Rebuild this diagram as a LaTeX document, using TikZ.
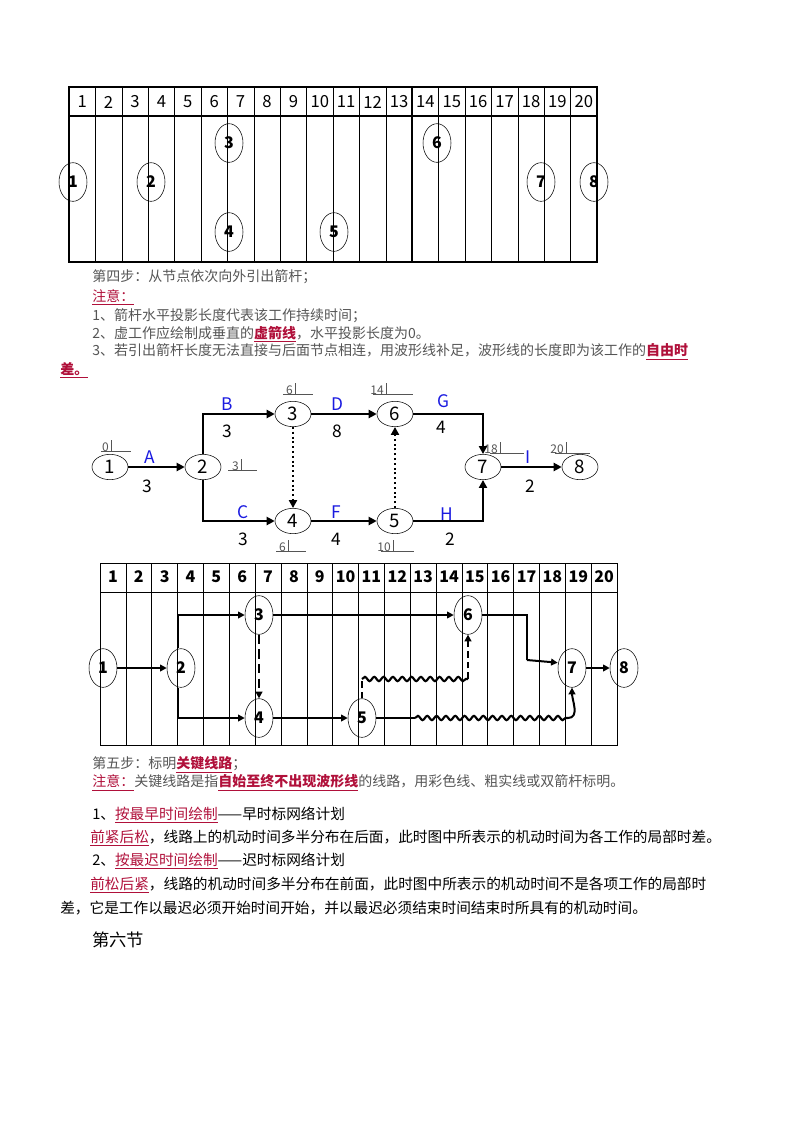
\documentclass[tikz,border=0pt]{standalone}
\usepackage{fontspec}
\setmainfont{Noto Sans CJK SC}
\usetikzlibrary{shapes.geometric,arrows.meta,decorations.pathmorphing}
\definecolor{rd}{HTML}{B0103A}
\definecolor{bl}{HTML}{1A1AE0}
\definecolor{gy}{HTML}{555555}
\newcommand{\rk}[1]{\textcolor{rd}{\underline{#1}}}
\begin{document}
\begin{tikzpicture}[x=0.75pt,y=-0.75pt,
  gc/.style={ellipse,draw,thin,minimum width=21pt,minimum height=29pt,inner sep=0pt,font=\bfseries\fontsize{12}{12}\selectfont},
  nc/.style={ellipse,draw,thin,minimum width=27pt,minimum height=19pt,inner sep=0pt,font=\fontsize{14}{14}\selectfont},
  txt/.style={anchor=west,inner sep=0pt,font=\fontsize{10.5}{12}\selectfont},
  big/.style={anchor=west,inner sep=0pt,font=\fontsize{11}{13}\selectfont},
  lab/.style={inner sep=0pt,font=\fontsize{13}{13}\selectfont,text=bl},
  num/.style={inner sep=0pt,font=\fontsize{13}{13}\selectfont},
  tim/.style={inner sep=0pt,font=\fontsize{9}{9}\selectfont,text=gy},
  arr/.style={line width=1.6pt,-{Triangle[length=6pt,width=6pt]}},
  wav/.style={line width=1.6pt,decorate,decoration={snake,segment length=7pt,amplitude=1.6pt}}]
\useasboundingbox (0,0) rectangle (800,1132);
% ---------- grid 1
\draw[line width=1.3pt] (69,87) rectangle (597,262);
\draw[line width=1.1pt] (69,116) -- (597,116);
\foreach \k in {1,...,19}{\draw[thin] (69+26.4*\k,87) -- (69+26.4*\k,262);}
\foreach \k in {6,9,13}{\draw[line width=1.1pt] (69+26.4*\k,87) -- (69+26.4*\k,262);}
\foreach \k in {1,...,20}{\node[inner sep=0pt,font=\fontsize{12.5}{13}\selectfont] (h\k) at (69+26.4*\k-13.2,102) {\k};}
\node[gc] (a1) at (73,182) {1};
\node[gc] (a2) at (151,182) {2};
\node[gc] (a3) at (229,143) {3};
\node[gc] (a4) at (229,232) {4};
\node[gc] (a5) at (334,232) {5};
\node[gc] (a6) at (437,143) {6};
\node[gc] (a7) at (541,182) {7};
\node[gc] (a8) at (594,182) {8};
% ---------- text 1
\node[txt,text=gy] (t1) at (92,277) {第四步：从节点依次向外引出箭杆；};
\node[txt] (t2) at (92,297) {\rk{注意：}};
\node[txt,text=gy] (t3) at (92,316) {1、箭杆水平投影长度代表该工作持续时间；};
\node[txt,text=gy] (t4) at (92,334) {2、虚工作应绘制成垂直的\rk{\bfseries 虚箭线}，水平投影长度为0。};
\node[txt,text=gy] (t5) at (92,352) {3、若引出箭杆长度无法直接与后面节点相连，用波形线补足，波形线的长度即为该工作的\rk{\bfseries 自由时}};
\node[txt] (t6) at (60,370) {\rk{\bfseries 差。}};
% ---------- network
\node[nc] (n1) at (110,467) {1};
\node[nc] (n2) at (203,467) {2};
\node[nc] (n3) at (293,414) {3};
\node[nc] (n4) at (293,521) {4};
\node[nc] (n5) at (395,521) {5};
\node[nc] (n6) at (395,414) {6};
\node[nc] (n7) at (483,467) {7};
\node[nc] (n8) at (580,467) {8};
\draw[arr] (n1) -- (n2);
\draw[arr] (n2.north) |- (n3);
\draw[arr] (n2.south) |- (n4);
\draw[arr] (n3) -- (n6);
\draw[arr] (n4) -- (n5);
\draw[arr] (n6) -| (n7);
\draw[arr] (n5) -| (n7);
\draw[arr] (n7) -- (n8);
\draw[line width=1.6pt,dotted,-{Triangle[length=6pt,width=6pt]}] (n3) -- (n4);
\draw[line width=1.6pt,dotted,-{Triangle[length=6pt,width=6pt]}] (n5) -- (n6);
\node[lab] (la) at (150,457) {A}; \node[num] (da) at (147,486) {3};
\node[lab] (lb) at (227,404) {B}; \node[num] (db) at (227,431) {3};
\node[lab] (ld) at (337,404) {D}; \node[num] (dd) at (337,431) {8};
\node[lab] (lg) at (443,401) {G}; \node[num] (dg) at (441,427) {4};
\node[lab] (lc) at (243,512) {C}; \node[num] (dc) at (243,539) {3};
\node[lab] (lf) at (336,512) {F}; \node[num] (df) at (336,539) {4};
\node[lab] (lh) at (447,514) {H}; \node[num] (dh) at (450,539) {2};
\node[lab] (li) at (528,457) {I}; \node[num] (di) at (530,486) {2};
\foreach \x/\y/\t/\a/\b in {108/448/0/101/131, 238/467/3/228/257, 292/391/6/283/313, 383/391/14/373/413, 497/450/18/490/524, 563/450/20/555/590, 285/548/6/276/306, 390/548/10/381/414}{
  \node[tim,anchor=east] at (\x+1,\y-1) {\t};
  \draw[gy,thin] (\x+3,\y-8) -- (\x+3,\y+3);
  \draw[gy,thin] (\a,\y+3) -- (\b,\y+3);
}
% ---------- grid 2
\draw[thin] (100,563) rectangle (617,745);
\draw[thin] (100,592) -- (617,592);
\foreach \k in {1,...,19}{\draw[thin] (100+25.85*\k,563) -- (100+25.85*\k,745);}
\draw[line width=0.9pt] (100+25.85*11,563) -- (100+25.85*11,745);
\foreach \k in {1,...,20}{\node[inner sep=0pt,font=\bfseries\fontsize{12}{12}\selectfont] (k\k) at (100+25.85*\k-12.9,577) {\k};}
\node[gc] (g1) at (103,668) {1};
\node[gc] (g2) at (181,668) {2};
\node[gc] (g3) at (259,615) {3};
\node[gc] (g4) at (259,718) {4};
\node[gc] (g5) at (362,718) {5};
\node[gc] (g6) at (468,615) {6};
\node[gc] (g7) at (572,668) {7};
\node[gc] (g8) at (624,668) {8};
\coordinate (w1) at (362,679);
\coordinate (w2) at (468,679);
\coordinate (w3) at (415,718);
\coordinate (w4) at (568,718);
\coordinate (c6) at (527,660);
\tikzset{garr/.style={line width=1.5pt,-{Triangle[length=5pt,width=5pt]}}}
\draw[garr] (g1) -- (g2);
\draw[garr] ([xshift=-2pt]g2.north) |- (g3);
\draw[garr] ([xshift=-2pt]g2.south) |- (g4);
\draw[line width=1.2pt,-{Triangle[length=5pt,width=5pt]}] (g3) -- (g6);
\draw[line width=1.5pt,dashed,dash pattern=on 7pt off 4pt,-{Triangle[length=5pt,width=5pt]}] (g3) -- (g4);
\draw[garr] (g4) -- (g5);
\draw[line width=1.5pt,dashed,dash pattern=on 5pt off 3pt] (g5.north) -- (w1);
\draw[wav] (w1) -- (w2);
\draw[line width=1.5pt,dashed,dash pattern=on 5pt off 3pt,-{Triangle[length=5pt,width=5pt]}] (w2) -- (g6.south);
\draw[line width=1.5pt] (g5) -- (w3);
\draw[wav] (w3) -- (w4);
\draw[garr] (w4) to[out=0,in=-90] (g7.south);
\draw[line width=1.5pt] (g6) -| (c6);
\draw[garr] (c6) -- ([yshift=4pt]g7.west);
\draw[garr] (g7) -- (g8);
% ---------- text 2
\node[txt,text=gy] (t7) at (92,765) {第五步：标明\rk{\bfseries 关键线路}；};
\node[txt,text=gy] (t8) at (92,783) {\rk{注意：}关键线路是指\rk{\bfseries 自始至终不出现波形线}的线路，用彩色线、粗实线或双箭杆标明。};
\node[big] (t9) at (92,815) {1、\rk{按最早时间绘制}——早时标网络计划};
\node[big] (t10) at (90,838) {\rk{前紧后松}，线路上的机动时间多半分布在后面，此时图中所表示的机动时间为各工作的局部时差。};
\node[big] (t11) at (92,861) {2、\rk{按最迟时间绘制}——迟时标网络计划};
\node[big] (t12) at (90,885) {\rk{前松后紧}，线路的机动时间多半分布在前面，此时图中所表示的机动时间不是各项工作的局部时};
\node[big] (t13) at (60,908) {差，它是工作以最迟必须开始时间开始，并以最迟必须结束时间结束时所具有的机动时间。};
\node[big,font=\fontsize{13}{14}\selectfont] (t14) at (92,940) {第六节};
\end{tikzpicture}
\end{document}
